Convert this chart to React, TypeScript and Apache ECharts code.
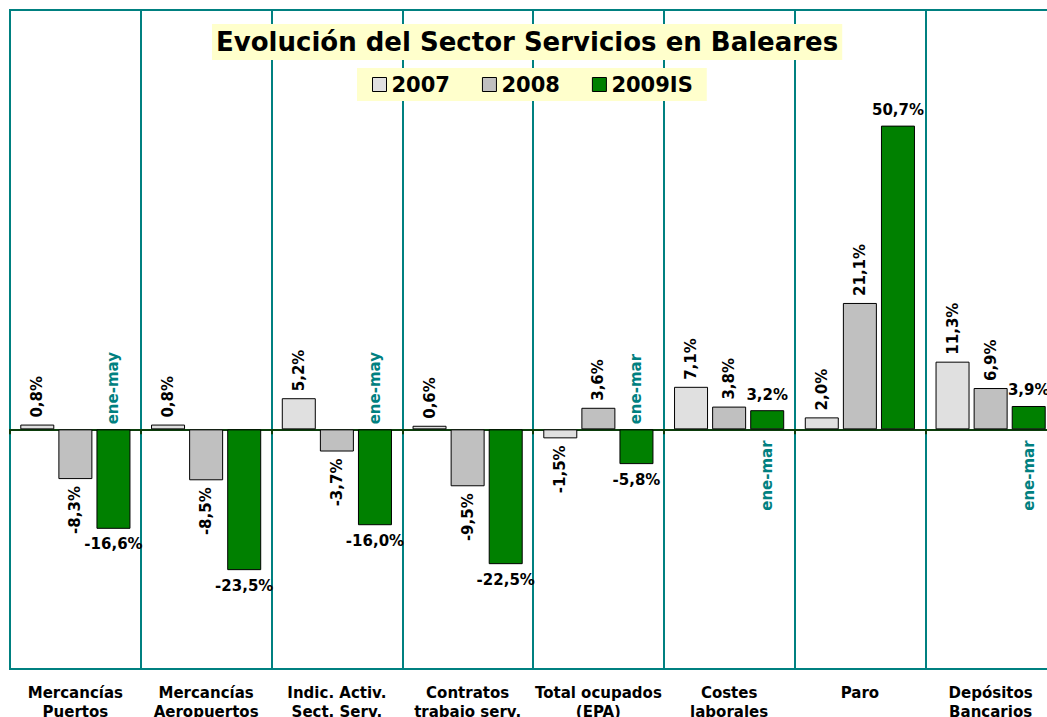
import React, { useEffect, useRef } from "react";
import * as echarts from "echarts";

const categories = [
  "Mercancías\nPuertos",
  "Mercancías\nAeropuertos",
  "Indic. Activ.\nSect. Serv.",
  "Contratos\ntrabajo serv.",
  "Total ocupados\n(EPA)",
  "Costes\nlaborales",
  "Paro",
  "Depósitos\nBancarios",
];
const seriesNames = ["2007", "2008", "2009IS"];
const s2007 = [0.8, 0.8, 5.2, 0.6, -1.5, 7.1, 2.0, 11.3];
const s2008 = [-8.3, -8.5, -3.7, -9.5, 3.6, 3.8, 21.1, 6.9];
const s2009 = [-16.6, -23.5, -16.0, -22.5, -5.8, 3.2, 50.7, 3.9];
// period annotations for 2009IS: [category index, text, side]
const notes: [number, string, "above" | "below"][] = [
  [0, "ene-may", "above"],
  [2, "ene-may", "above"],
  [4, "ene-mar", "above"],
  [5, "ene-mar", "below"],
  [7, "ene-mar", "below"],
];
const colors = ["#e0e0e0", "#c0c0c0", "#008000"];

const FONT = '"DejaVu Sans", Verdana, sans-serif';
const fmt = (v: number) => v.toFixed(1).replace(".", ",") + "%";

export default function App() {
  const ref = useRef<HTMLDivElement>(null);
  useEffect(() => {
    const chart = echarts.init(ref.current!, undefined, { renderer: "svg" });

    const rotatedData = (arr: number[]) =>
      arr.map((v) => ({
        value: v,
        label: {
          show: true,
          position: "outside",
          rotate: 90,
          distance: 7,
          align: v >= 0 ? "left" : "right",
          verticalAlign: "middle",
          formatter: fmt(v),
        },
      }));

    const greenData = s2009.map((v) => ({
      value: v,
      label: {
        show: true,
        position: "outside",
        distance: 8,
        formatter: fmt(v),
      },
    }));

    const labelStyle = {
      fontFamily: FONT,
      fontWeight: "bold",
      fontSize: 15,
      color: "#000",
    };

    const option: any = {
      animation: false,
      backgroundColor: "#fff",
      title: {
        text: "Evolución del Sector Servicios en Baleares",
        left: 212,
        top: 24,
        backgroundColor: "#ffffcc",
        padding: [3, 4],
        textStyle: {
          fontFamily: FONT,
          fontWeight: "bold",
          fontSize: 26,
          lineHeight: 30,
          color: "#000",
        },
      },
      legend: {
        data: seriesNames,
        left: 357,
        top: 68,
        backgroundColor: "#ffffcc",
        padding: [6, 14, 6, 15],
        itemWidth: 14,
        itemHeight: 14,
        itemGap: 32,
        icon: "rect",
        itemStyle: { borderColor: "#000", borderWidth: 1 },
        textStyle: {
          fontFamily: FONT,
          fontWeight: "bold",
          fontSize: 21,
          color: "#000",
        },
      },
      grid: {
        left: 10,
        top: 10,
        width: 1046,
        height: 659,
        show: true,
        borderColor: "#008080",
        borderWidth: 2,
        backgroundColor: "#fff",
        containLabel: false,
        outerBoundsMode: "none",
      },
      xAxis: [
        {
          type: "category",
          data: categories,
          position: "top",
          axisLine: {
            onZero: true,
            lineStyle: { color: "#0b3d0b", width: 2 },
          },
          axisTick: { show: true, length: 5, inside: true, lineStyle: { color: "#0b3d0b", width: 2 } },
          axisLabel: { show: false },
          splitLine: { show: true, lineStyle: { color: "#008080", width: 2 } },
        },
        {
          type: "category",
          data: categories,
          position: "bottom",
          axisLine: { onZero: false, lineStyle: { color: "#008080", width: 2 } },
          axisTick: { show: false },
          splitLine: { show: false },
          axisLabel: {
            show: true,
            margin: 14,
            interval: 0,
            fontFamily: FONT,
            fontWeight: "bold",
            fontSize: 15,
            lineHeight: 19,
            color: "#000",
          },
        },
      ],
      yAxis: {
        type: "value",
        min: -40,
        max: 70,
        axisLine: { show: false },
        axisTick: { show: false },
        axisLabel: { show: false },
        splitLine: { show: false },
      },
      series: [
        {
          name: seriesNames[0],
          type: "bar",
          xAxisIndex: 0,
          data: rotatedData(s2007),
          barWidth: 34,
          barGap: "12%",
          itemStyle: { color: colors[0], borderColor: "#000", borderWidth: 1 },
          label: labelStyle,
        },
        {
          name: seriesNames[1],
          type: "bar",
          xAxisIndex: 0,
          data: rotatedData(s2008),
          barWidth: 34,
          barGap: "12%",
          itemStyle: { color: colors[1], borderColor: "#000", borderWidth: 1 },
          label: labelStyle,
        },
        {
          name: seriesNames[2],
          type: "bar",
          xAxisIndex: 0,
          data: greenData,
          barWidth: 34,
          barGap: "12%",
          itemStyle: { color: colors[2], borderColor: "#000", borderWidth: 1 },
          label: labelStyle,
          markPoint: {
            symbol: "circle",
            symbolSize: 0,
            silent: true,
            data: notes.map(([i, text, side]) => ({
              name: text,
              coord: [i, 0],
              label: {
                show: true,
                position: side === "above" ? "top" : "bottom",
                distance: side === "above" ? 5 : 11,
                rotate: 90,
                align: side === "above" ? "left" : "right",
                verticalAlign: "middle",
                formatter: "{b}",
                color: "#008080",
                fontFamily: FONT,
                fontWeight: "bold",
                fontSize: 15,
              },
            })),
          },
        },
      ],
    };

    chart.setOption(option);
    return () => chart.dispose();
  }, []);

  return (
    <div
      ref={ref}
      style={{ position: "absolute", left: 0, top: 0, width: 1047, height: 717 }}
    />
  );
}
